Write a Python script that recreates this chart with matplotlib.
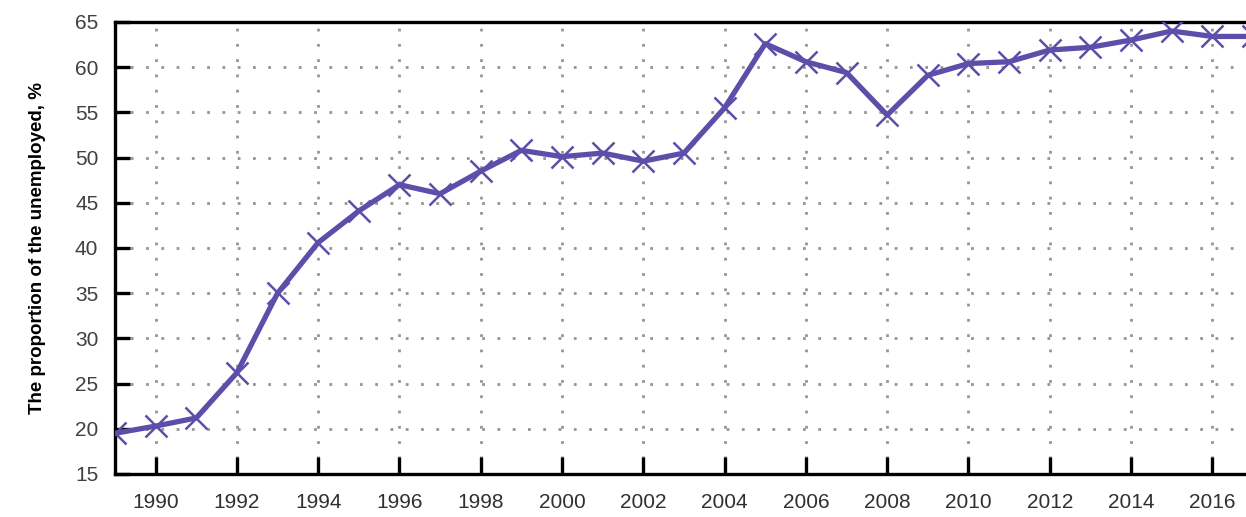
import matplotlib
matplotlib.use("Agg")
import matplotlib.pyplot as plt

# -----------------------------
# data
# -----------------------------
years = list(range(1989, 2018))
unemployed_share = [
    19.5, 20.3, 21.2, 26.2, 35.0, 40.6, 44.1, 47.0, 46.0, 48.5,
    50.8, 50.1, 50.5, 49.6, 50.5, 55.5, 62.6, 60.6, 59.4, 54.7,
    59.1, 60.4, 60.6, 61.9, 62.2, 63.0, 64.0, 63.4, 63.4,
]
x_ticks = list(range(1990, 2017, 2))
y_ticks = list(range(15, 66, 5))
y_label = "The proportion of the unemployed, %"

plt.rcParams["font.family"] = ["Liberation Sans", "DejaVu Sans"]

fig = plt.figure(figsize=(12.46, 5.17), dpi=100)
ax = fig.add_axes([0.0923, 0.0832, 0.9077, 0.8743])

ax.plot(years, unemployed_share, color="#5d4eaa", linewidth=3.8,
        marker="x", markersize=16, markeredgewidth=1.8, zorder=3,
        clip_on=True)

ax.set_xlim(1989, 2016.83)
ax.set_ylim(15, 65)
ax.set_xticks(x_ticks)
ax.set_yticks(y_ticks)

# 점선 그리드
ax.grid(True, color="#959595", linestyle=(0, (1, 4.5)), linewidth=2.0)
ax.set_axisbelow(True)

for side in ["left", "bottom", "top"]:
    ax.spines[side].set_linewidth(2.4)
    ax.spines[side].set_color("black")
ax.spines["right"].set_visible(False)

ax.tick_params(axis="y", direction="in", length=11, width=2.4,
               labelsize=15, pad=12, labelcolor="#404040")
ax.tick_params(axis="x", direction="in", length=12, width=2.4,
               labelsize=15, pad=14, labelcolor="#303030")

ax.set_ylabel(y_label, fontsize=13.5, fontweight="bold", labelpad=21)

fig.savefig("out.png", dpi=100)
plt.close(fig)
